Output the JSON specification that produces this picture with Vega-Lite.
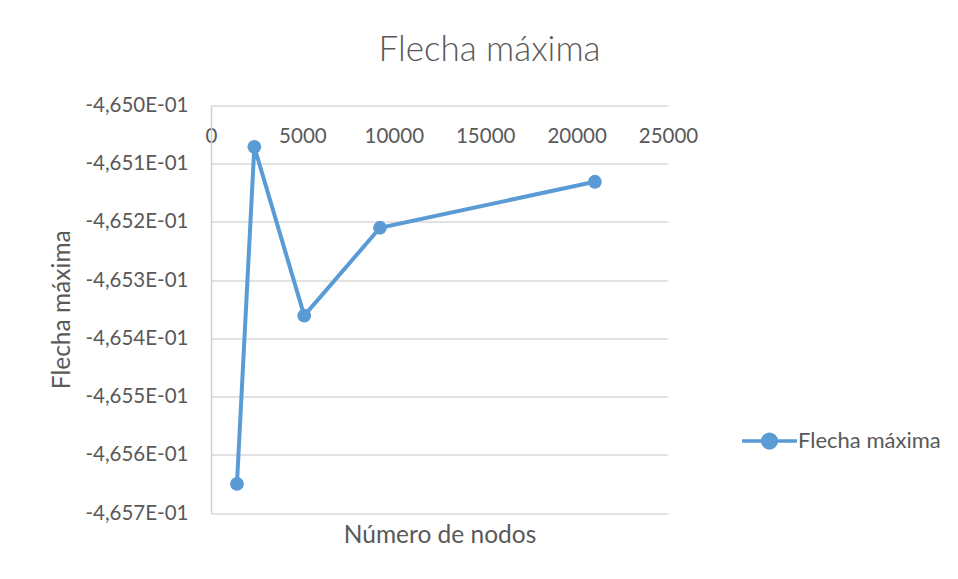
{
  "$schema": "https://vega.github.io/schema/vega-lite/v6.json",
  "autosize": "none",
  "width": 457,
  "height": 407.5,
  "padding": {"left": 211, "top": 105.5, "right": 290, "bottom": 66},
  "background": "white",
  "config": {
    "view": {"stroke": null},
    "font": "Lato"
  },
  "title": {
    "text": "Flecha máxima",
    "font": "Lato",
    "fontSize": 35,
    "fontWeight": 300,
    "color": "#595959",
    "anchor": "middle",
    "frame": "group",
    "dx": 50,
    "offset": 28
  },
  "data": {
    "values": [
      {"nodos": 1420, "flecha": -0.46565, "serie": "Flecha máxima"},
      {"nodos": 2370, "flecha": -0.465071, "serie": "Flecha máxima"},
      {"nodos": 5100, "flecha": -0.465361, "serie": "Flecha máxima"},
      {"nodos": 9245, "flecha": -0.46521, "serie": "Flecha máxima"},
      {"nodos": 21000, "flecha": -0.465131, "serie": "Flecha máxima"}
    ]
  },
  "encoding": {
    "y": {
      "field": "flecha",
      "type": "quantitative",
      "scale": {"domain": [-0.4657, -0.465], "nice": false, "zero": false},
      "axis": {
        "title": "Flecha máxima",
        "titleFont": "Lato",
        "titleFontSize": 24.5,
        "titleFontWeight": "normal",
        "titleColor": "#595959",
        "titleX": -149,
        "titleY": 203.75,
        "titleBaseline": "middle",
        "titleAngle": -90,
        "values": [-0.4657, -0.4656, -0.4655, -0.4654, -0.4653, -0.4652, -0.4651, -0.465],
        "labelExpr": "'-' + replace(format(-datum.value*10, '.3f'), '.', ',') + 'E-01'",
        "labelFont": "Lato",
        "labelFontSize": 20.5,
        "labelColor": "#595959",
        "labelPadding": 23,
        "ticks": false,
        "domain": true,
        "domainColor": "#D0D0D0",
        "domainWidth": 1.5,
        "grid": true,
        "gridColor": "#D9D9D9",
        "gridWidth": 1.5
      }
    }
  },
  "layer": [
    {
      "mark": {"type": "line", "strokeWidth": 4},
      "encoding": {
        "x": {
          "field": "nodos",
          "type": "quantitative",
          "scale": {"domain": [0, 25000], "nice": false},
          "axis": {
            "orient": "top",
            "title": null,
            "values": [0, 5000, 10000, 15000, 20000, 25000],
            "format": "d",
            "labelFont": "Lato",
            "labelFontSize": 20.5,
            "labelColor": "#595959",
            "labelBaseline": "middle",
            "labelPadding": -31,
            "labelFlush": false,
            "labelOverlap": false,
            "ticks": false,
            "domain": false,
            "grid": false
          }
        },
        "color": {
          "field": "serie",
          "type": "nominal",
          "scale": {"range": ["#5B9BD5"]},
          "legend": {
            "orient": "none",
            "legendX": 529,
            "legendY": 306,
            "title": null,
            "symbolType": "M-1,0L1,0M-0.25,0A0.25,0.25,0,1,1,0.25,0A0.25,0.25,0,1,1,-0.25,0Z",
            "symbolSize": 3025,
            "symbolStrokeWidth": 3.5,
            "symbolFillColor": "#5B9BD5",
            "symbolStrokeColor": "#5B9BD5",
            "labelFont": "Lato",
            "labelFontSize": 22,
            "labelColor": "#595959",
            "labelOffset": -1
          }
        }
      }
    },
    {
      "mark": {"type": "point", "filled": true, "size": 190, "color": "#5B9BD5", "opacity": 1},
      "encoding": {
        "x": {
          "field": "nodos",
          "type": "quantitative",
          "scale": {"domain": [0, 25000], "nice": false},
          "axis": {
            "orient": "bottom",
            "title": "Número de nodos",
            "titleFont": "Lato",
            "titleFontSize": 24.5,
            "titleFontWeight": "normal",
            "titleColor": "#595959",
            "titleBaseline": "middle",
            "titleY": 22,
            "labels": false,
            "ticks": false,
            "domain": false,
            "grid": false
          }
        }
      }
    }
  ],
  "resolve": {"axis": {"x": "independent"}}
}
